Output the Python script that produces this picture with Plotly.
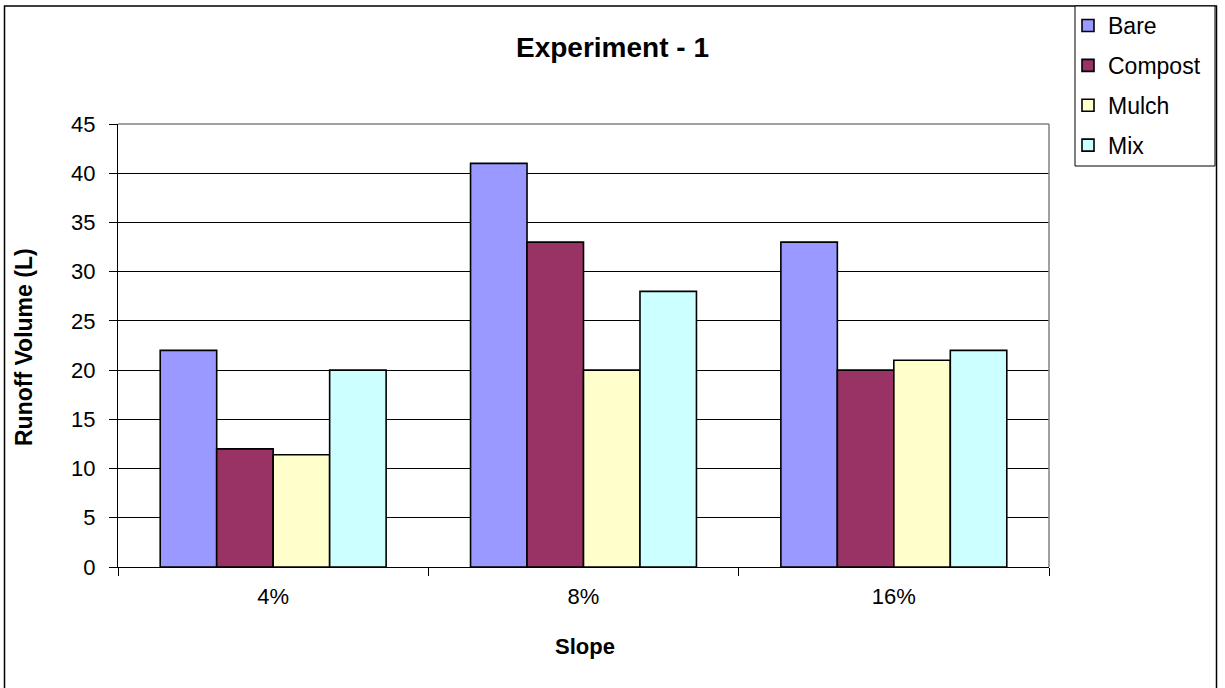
import plotly.graph_objects as go

# Runoff volume (L) per slope and ground treatment
slopes = ["4%", "8%", "16%"]
bare = [22, 41, 33]
compost = [12, 33, 20]
mulch = [11.4, 20, 21]
mix = [20, 28, 22]

series_names = ["Bare", "Compost", "Mulch", "Mix"]
series_values = [bare, compost, mulch, mix]
series_colors = ["#9999FF", "#993366", "#FFFFCC", "#CCFFFF"]

W, H = 1225, 688
L, R, T, B = 118, 1049, 124, 567  # plot area in pixels
pw, ph = R - L, B - T


def px(x):
    return (x - L) / pw


def py(y):
    return (B - y) / ph


FONT = "Liberation Sans, Arial, sans-serif"

fig = go.Figure()
for name, vals, col in zip(series_names, series_values, series_colors):
    fig.add_trace(go.Bar(
        x=slopes, y=vals, name=name, legendgroup=name,
        marker=dict(color=col, line=dict(color="black", width=1.6)),
    ))

fig.update_layout(
    width=W, height=H,
    margin=dict(l=L, r=W - R, t=T, b=H - B, autoexpand=False),
    paper_bgcolor="white", plot_bgcolor="white",
    barmode="group", bargap=0.272, bargroupgap=0,
    font=dict(family=FONT, color="black", size=22),
    title=dict(text="<b>Experiment - 1</b>", xref="container", x=0.5,
               xanchor="center", yref="container", y=1 - 47 / H,
               yanchor="middle", font=dict(size=28, family=FONT)),
    showlegend=True,
    legend=dict(x=px(1068), y=py(4), xanchor="left", yanchor="top",
                bgcolor="rgba(0,0,0,0)", borderwidth=0,
                font=dict(size=23, family=FONT),
                tracegroupgap=7, itemwidth=30),
)

fig.update_xaxes(
    type="category", showgrid=False, showline=True, linecolor="black",
    linewidth=1, ticks="outside", tickson="boundaries", ticklen=8,
    tickcolor="black", ticklabelstandoff=10, tickfont=dict(size=22),
)
fig.update_yaxes(
    range=[0, 45], dtick=5, showgrid=True, gridcolor="black", gridwidth=1,
    showline=True, linecolor="black", linewidth=1, ticks="outside",
    ticklen=8, tickcolor="black", ticklabelstandoff=9, zeroline=False,
    tickfont=dict(size=22),
)

# axis titles
fig.add_annotation(text="<b>Runoff Volume (L)</b>", textangle=-90,
                   xref="paper", yref="paper", x=px(24), y=py(347),
                   xanchor="center", yanchor="middle",
                   showarrow=False, font=dict(size=23, family=FONT))
fig.add_annotation(text="<b>Slope</b>", xref="paper", yref="paper",
                   x=px(585), y=py(646), xanchor="center", yanchor="middle",
                   showarrow=False, font=dict(size=22, family=FONT))

# plot area frame (top and right), legend box, chart border
fig.add_shape(type="line", xref="paper", yref="paper", x0=0, x1=1, y0=1, y1=1,
              line=dict(color="#808080", width=1.5))
fig.add_shape(type="line", xref="paper", yref="paper", x0=1, x1=1, y0=0, y1=1,
              line=dict(color="#808080", width=1.5))
fig.add_shape(type="rect", xref="paper", yref="paper",
              x0=px(4.5), x1=px(1216.5), y0=py(6), y1=py(700),
              line=dict(color="black", width=1.5), fillcolor="rgba(0,0,0,0)")
fig.add_shape(type="rect", xref="paper", yref="paper",
              x0=px(1075), x1=px(1215), y0=py(6), y1=py(166),
              line=dict(color="black", width=1), fillcolor="white")

fig.write_html("out.html")
